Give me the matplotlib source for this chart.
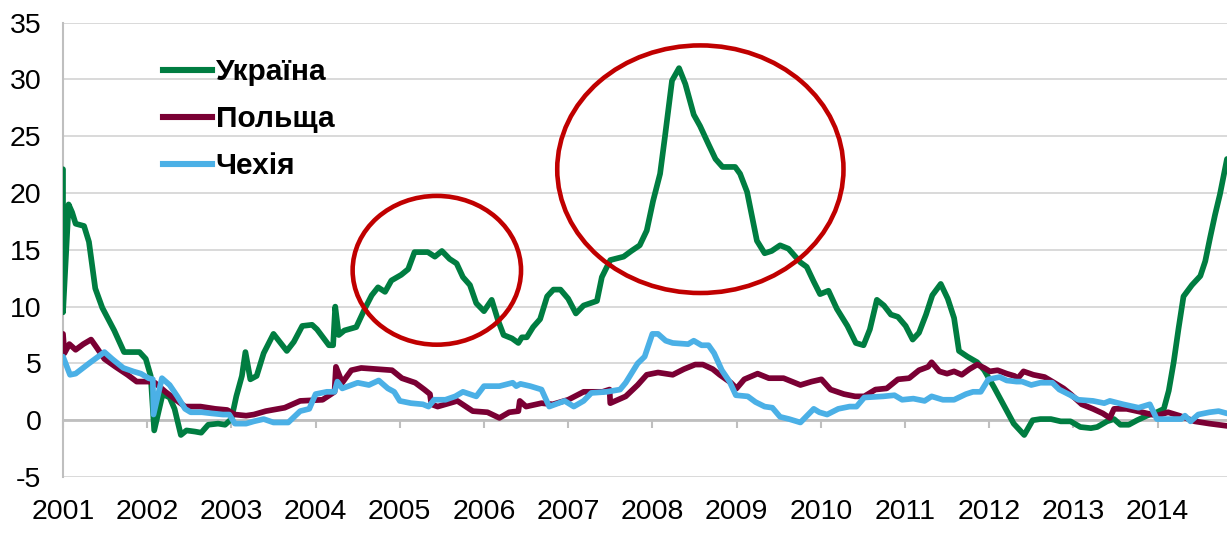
import matplotlib
matplotlib.use("Agg")
import matplotlib.pyplot as plt
from matplotlib.patches import Ellipse
from matplotlib.lines import Line2D
import numpy as np

plt.rcParams['font.family'] = ['Liberation Sans', 'DejaVu Sans']
plt.rcParams['axes.unicode_minus'] = False

# ---------------- data ----------------
series_names = ["Україна", "Польща", "Чехія"]
year_ticks = list(range(2001, 2015))
y_ticks = [-5, 0, 5, 10, 15, 20, 25, 30, 35]

# months elapsed since January 2001, and values in %
ua_month = [0, 0, 0.8, 1.3, 1.8, 3, 3.7, 4.6, 5.6, 7.3, 8.7, 10.9, 11.8, 12.5, 13, 14.2, 15.2, 15.9,
            16.8, 17.6, 18.8, 19.7, 20.7, 22.1, 23.1, 24, 24.7, 25.5, 26, 26.7, 27.6, 28.6, 30, 31.9,
            32.9, 34.1, 35.5, 36.2, 37.9, 38.5, 38.8, 39.3, 40.1, 41.8, 43, 44, 44.9, 45.9, 46.8,
            48.2, 49.2, 50.1, 51.3, 52, 53, 54, 55.1, 56.1, 57, 58, 58.9, 60, 61.1, 62, 62.8, 64,
            64.9, 65.4, 66.1, 67, 68, 69, 69.9, 70.9, 72, 73.1, 74.2, 76.1, 76.8, 78, 79.9, 81,
            82.2, 83.2, 84.1, 85.1, 85.8, 86.8, 87.8, 88.7, 89.9, 90.8, 92, 93, 94, 95.8, 96.5,
            97.5, 98.9, 100, 101, 102.2, 103.4, 105.1, 106, 107, 107.9, 109.1, 110.3, 111.8, 113,
            114.1, 115, 116, 117, 118, 119, 120.1, 121.1, 122, 123, 123.9, 125.1, 126.1, 127,
            127.7, 128.9, 130.3, 131.3, 132.7, 134.1, 135.5, 137, 138.2, 139.3, 140.8, 142.2,
            143.6, 145, 146.5, 147.4, 148.8, 149.8, 150.7, 151.9, 153.1, 154.5, 155.9, 156.9,
            157.6, 158.3, 159, 159.7, 160.9, 162.1, 162.8, 163.5, 164.2, 164.9, 165.9]
ua_value = [22.1, 9.5, 19.0, 18.3, 17.3, 17.1, 15.7, 11.6, 9.9, 7.9, 6.0, 6.0, 5.4, 3.9, -0.9, 2.3,
            2.0, 1.0, -1.3, -0.9, -1.0, -1.1, -0.4, -0.3, -0.4, 0.1, 2.1, 3.9, 6.0, 3.6, 3.9, 5.9,
            7.6, 6.1, 6.9, 8.3, 8.4, 8.0, 6.6, 6.6, 10.0, 7.5, 7.9, 8.2, 9.8, 11.0, 11.7, 11.3,
            12.3, 12.8, 13.3, 14.8, 14.8, 14.8, 14.4, 14.9, 14.2, 13.8, 12.6, 11.9, 10.3, 9.6,
            10.6, 8.8, 7.5, 7.2, 6.8, 7.3, 7.3, 8.2, 8.9, 10.9, 11.5, 11.5, 10.7, 9.4, 10.1, 10.5,
            12.6, 14.1, 14.4, 14.9, 15.4, 16.7, 19.3, 21.7, 25.0, 29.9, 31.0, 29.6, 26.9, 25.9,
            24.3, 23.0, 22.3, 22.3, 21.7, 20.1, 15.8, 14.7, 14.9, 15.4, 15.1, 13.9, 13.5, 12.2,
            11.1, 11.4, 9.8, 8.3, 6.8, 6.6, 8.0, 10.6, 10.1, 9.3, 9.1, 8.3, 7.1, 7.7, 9.3, 11.0,
            12.0, 10.7, 9.0, 6.1, 5.6, 5.1, 4.4, 2.9, 1.3, -0.3, -1.3, 0.0, 0.1, 0.1, -0.1, -0.1,
            -0.6, -0.7, -0.6, -0.1, 0.1, -0.4, -0.4, 0.0, 0.4, 0.7, 1.0, 2.6, 5.1, 8.1, 10.9,
            11.9, 12.7, 14.0, 16.1, 18.1, 19.9, 23.0]

pl_month = [0, 0.2, 0.9, 1.8, 2.9, 4, 4.8, 5.9, 7.5, 9.2, 10.5, 12.2, 13.1, 14.6, 16.3, 17.4, 19.6,
            21.7, 23.4, 24.5, 26.1, 27.2, 28.9, 31.6, 33.8, 37, 38.7, 38.9, 39.8, 41.1, 42.5, 46.9,
            48.3, 50.2, 51.5, 52.3, 52.5, 53.4, 56.2, 58.4, 60.5, 62.2, 63.6, 64.9, 65.1, 66, 68.2,
            69.8, 72, 74.2, 76.9, 77.9, 78, 80.2, 81.9, 83.2, 84.8, 86.9, 88.5, 90.1, 91.2, 92.6,
            93.6, 95.2, 96, 97.1, 99, 100.6, 102.7, 105.1, 106.7, 108.1, 109.4, 111.3, 112.9,
            114.2, 115.8, 117.4, 119, 120.6, 122, 123.3, 123.8, 124.9, 126, 127, 128.1, 129.2,
            130.3, 131.3, 132.1, 133.2, 134.5, 135.6, 136.1, 136.9, 138.3, 139.9, 141, 142.6,
            143.6, 145.2, 146.8, 148.2, 149.2, 149.8, 151.6, 153.8, 155.9, 157.5, 159.1, 161.3,
            163.4, 165.9]
pl_value = [7.6, 5.9, 6.7, 6.2, 6.7, 7.1, 6.4, 5.4, 4.7, 4.0, 3.4, 3.4, 3.3, 2.5, 1.7, 1.2, 1.2,
            1.0, 0.9, 0.5, 0.4, 0.5, 0.8, 1.1, 1.7, 1.8, 2.5, 4.7, 3.3, 4.4, 4.6, 4.4, 3.7, 3.3,
            2.7, 2.3, 1.4, 1.2, 1.7, 0.8, 0.7, 0.2, 0.7, 0.8, 1.7, 1.2, 1.5, 1.4, 1.8, 2.5, 2.5,
            2.7, 1.5, 2.1, 3.1, 4.0, 4.2, 4.0, 4.5, 4.9, 4.9, 4.5, 4.0, 3.3, 2.8, 3.6, 4.1, 3.7,
            3.7, 3.1, 3.4, 3.6, 2.7, 2.3, 2.1, 2.1, 2.7, 2.8, 3.6, 3.7, 4.4, 4.7, 5.1, 4.3, 4.1,
            4.3, 4.0, 4.5, 4.9, 4.6, 4.3, 4.4, 4.1, 3.9, 3.7, 4.3, 4.0, 3.8, 3.4, 2.8, 2.3, 1.4,
            1.0, 0.6, 0.2, 1.0, 1.0, 0.7, 0.4, 0.7, 0.4, -0.1, -0.3, -0.5]

cz_month = [0, 1, 1.8, 3.7, 5.9, 7, 8.6, 10, 11.1, 12.2, 12.8, 12.9, 14.1, 15.2, 16.3, 17.4, 18.2,
            19.8, 21.2, 22.8, 23.7, 24.5, 26.1, 27.2, 28.6, 30, 32.1, 33.8, 35.1, 36, 37.6, 38.7,
            39.1, 39.8, 42, 43.6, 45, 46.3, 47.2, 48, 49.6, 51.3, 52.1, 52.9, 54.5, 55.9, 57, 58.9,
            60, 62.2, 64.1, 64.6, 65.2, 66.6, 68.2, 69.3, 71.5, 72.8, 74.2, 75.3, 77.5, 79.4, 80.2,
            81.9, 82.9, 84, 84.8, 85.9, 86.9, 89.1, 89.9, 91, 92, 92.8, 93.9, 95, 95.9, 97.6, 98.7,
            100, 101.1, 102.2, 103.5, 105.1, 107, 107.8, 108.9, 110.5, 112.1, 113.1, 114.2, 116.9,
            118.5, 119.6, 121.2, 122.8, 123.8, 125.4, 127, 128.7, 129.7, 130.8, 131.9, 133.5,
            134.5, 135.9, 136.7, 138, 139.3, 141, 142, 143.6, 144.7, 146.8, 148.4, 149.2, 151.1,
            153.3, 154.9, 155.9, 157.5, 159.4, 159.9, 160.7, 161.8, 163.4, 164.7, 165.9]
cz_value = [5.6, 4.0, 4.1, 5.0, 6.0, 5.4, 4.6, 4.3, 4.1, 3.7, 3.6, 0.5, 3.7, 3.1, 2.1, 1.0, 0.7,
            0.7, 0.6, 0.5, 0.5, -0.3, -0.3, -0.1, 0.1, -0.2, -0.2, 0.8, 1.0, 2.3, 2.5, 2.5, 3.4,
            2.8, 3.3, 3.1, 3.5, 2.8, 2.5, 1.7, 1.5, 1.4, 1.2, 1.8, 1.8, 2.1, 2.5, 2.1, 3.0, 3.0,
            3.3, 3.0, 3.2, 3.0, 2.7, 1.2, 1.7, 1.2, 1.7, 2.4, 2.5, 2.7, 3.3, 5.0, 5.6, 7.6, 7.6,
            7.0, 6.8, 6.7, 7.0, 6.6, 6.6, 5.9, 4.4, 3.4, 2.2, 2.1, 1.6, 1.2, 1.1, 0.3, 0.1, -0.2,
            1.0, 0.7, 0.5, 1.0, 1.2, 1.2, 2.0, 2.1, 2.2, 1.8, 1.9, 1.7, 2.1, 1.8, 1.8, 2.3, 2.5,
            2.5, 3.6, 3.8, 3.5, 3.4, 3.4, 3.1, 3.3, 3.3, 2.7, 2.2, 1.8, 1.7, 1.5, 1.7, 1.4, 1.1,
            1.4, 0.1, 0.1, 0.1, 0.4, -0.1, 0.5, 0.7, 0.8, 0.6]

colors = ["#007D41", "#7A0034", "#4BB0E6"]

# ---------------- figure ----------------
W, H = 1227, 537
fig = plt.figure(figsize=(W / 100, H / 100), dpi=100)
ax = fig.add_axes([63 / W, 1 - 477 / H, (W - 63) / W, (477 - 22.7) / H])

start = 2001
for months, vals, name, c in zip([ua_month, pl_month, cz_month],
                                 [ua_value, pl_value, cz_value],
                                 series_names, colors):
    t = start + np.asarray(months) / 12.0
    ax.plot(t, vals, color=c, lw=4.1, solid_joinstyle='round', solid_capstyle='round',
            label=name, zorder=3)

ax.set_xlim(start, start + 165.9 / 12)
ax.set_ylim(-5, 35)
ax.set_yticks(y_ticks)
ax.set_xticks(year_ticks)
ax.set_xticklabels([str(y) for y in year_ticks])

ax.yaxis.grid(True, color='#D9D9D9', lw=1.4, zorder=0)
ax.set_axisbelow(True)

for s in ['top', 'right']:
    ax.spines[s].set_visible(False)
ax.spines['left'].set_color('#BFBFBF')
ax.spines['left'].set_linewidth(1.5)
ax.spines['bottom'].set_position(('data', 0))
ax.spines['bottom'].set_color('#BFBFBF')
ax.spines['bottom'].set_linewidth(2.0)
ax.spines['bottom'].set_zorder(2)

ax.tick_params(axis='y', length=0, pad=15.5, labelsize=20.5, labelcolor='#000000')
ax.tick_params(axis='x', direction='out', length=6, width=1.5, color='#BFBFBF',
               pad=51, labelsize=20.5, labelcolor='#000000')

# red ellipses
for (cx, cy, w, h) in [(2005.44, 13.2, 2.0, 13.1), (2008.57, 22.1, 3.4, 21.8)]:
    ax.add_patch(Ellipse((cx, cy), w, h, fill=False, edgecolor='#C00000', lw=3.3,
                         zorder=5))

handles = [Line2D([], [], color=c, lw=4.4) for c in colors]
leg = ax.legend(handles, series_names, loc='upper left', bbox_to_anchor=(0.0859, 0.922),
                frameon=False, prop={'weight': 'bold', 'size': 21.5}, handlelength=1.65,
                handletextpad=0.12, labelspacing=0.64, borderpad=0, borderaxespad=0)

fig.savefig("out.png", dpi=100)
